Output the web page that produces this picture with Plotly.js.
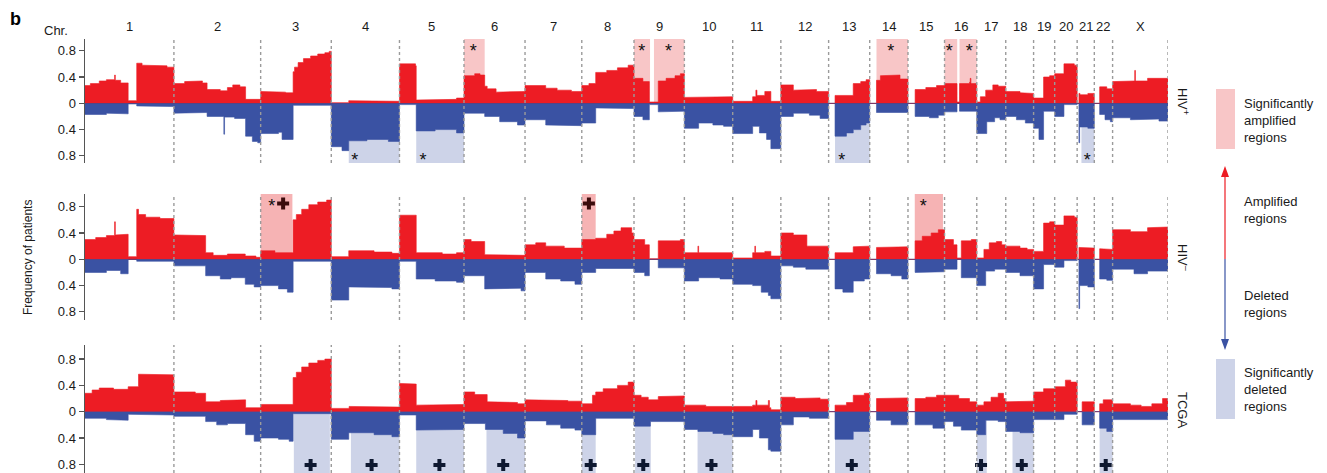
<!DOCTYPE html>
<html><head><meta charset="utf-8">
<script src="https://cdn.plot.ly/plotly-3.0.1.min.js"></script>
<style>html,body{margin:0;padding:0;background:#fff;}#chart{width:1327px;height:473px;}</style>
</head><body><div id="chart"></div>
<script>
// ---------- DATA ----------
const chrNames = ['1','2','3','4','5','6','7','8','9','10','11','12','13','14','15','16','17','18','19','20','21','22','X'];
const chrLengths = [249.25,243.2,198.0,191.15,180.9,171.1,159.1,146.4,141.2,135.5,135.0,133.9,115.2,107.3,102.5,90.35,81.2,78.1,59.1,63.0,48.1,51.3,155.3];

// per chromosome: [start Mb, frequency] steps
const hivPosAmp = [
 [[0,.27],[15,.30],[40,.34],[60,.36],[83,.43],[85,.35],[100,.31],[121,.04],[145,.61],[160,.58],[200,.57],[230,.55]],
 [[0,.30],[30,.33],[60,.34],[80,.31],[93,.21],[130,.19],[150,.24],[165,.28],[185,.25],[201,.06]],
 [[0,.18],[40,.17],[70,.16],[91,.48],[95,.55],[105,.62],[120,.68],[140,.72],[160,.75],[180,.77],[192,.79]],
 [[0,.01],[49,.04],[100,.04],[150,.03]],
 [[0,.60],[45,.57],[47,.05],[120,.06],[160,.08]],
 [[0,.42],[30,.45],[45,.43],[58,.26],[65,.22],[90,.17],[130,.18]],
 [[0,.27],[58,.23],[90,.20],[130,.18]],
 [[0,.27],[20,.30],[39,.47],[70,.50],[100,.54],[130,.58]],
 [[0,.38],[25,.33],[43,.02],[68,.34],[90,.38],[115,.42],[130,.45]],
 [[0,.09],[40,.10],[80,.09],[110,.10]],
 [[0,.03],[56,.10],[65,.20],[68,.12],[90,.18],[107,.03]],
 [[0,.28],[35,.20],[70,.21],[100,.18]],
 [[0,0],[18,.12],[50,.12],[69,.30],[90,.33],[105,.36]],
 [[0,0],[19,.35],[30,.42],[60,.43],[85,.37]],
 [[0,0],[20,.21],[50,.24],[80,.27]],
 [[0,.30],[35,.02],[42,.30],[70,.32],[72,.38],[74,.30]],
 [[0,.02],[10,.10],[25,.20],[45,.28],[60,.26]],
 [[0,.18],[40,.16],[60,.15]],
 [[0,.08],[28,.40],[45,.42]],
 [[0,.45],[26,.60],[55,.58]],
 [[0,0],[5,.15],[8,.13],[30,.15]],
 [[0,0],[15,.25],[35,.22]],
 [[0,.33],[60,.34],[62,.50],[64,.34],[98,.38],[130,.38]]
];
const hivPosDel = [
 [[0,.17],[60,.15],[100,.16],[121,.01],[145,.04],[200,.05]],
 [[0,.15],[50,.14],[93,.20],[140,.47],[142,.21],[170,.23],[201,.50],[220,.58],[235,.60]],
 [[0,.46],[50,.44],[60,.55],[91,.03]],
 [[0,.66],[30,.72],[49,.57],[100,.55],[160,.58]],
 [[0,.02],[47,.42],[100,.40],[160,.45]],
 [[0,.15],[58,.20],[100,.28],[150,.33]],
 [[0,.25],[58,.33],[130,.34]],
 [[0,.30],[39,.07],[100,.08]],
 [[0,.20],[25,.25],[43,.02],[68,.13],[110,.12]],
 [[0,.38],[40,.30],[80,.33],[110,.35]],
 [[0,.46],[56,.35],[75,.45],[95,.55],[107,.69]],
 [[0,.20],[35,.15],[80,.18],[110,.23]],
 [[0,0],[18,.50],[50,.45],[69,.40],[90,.33],[105,.30]],
 [[0,0],[19,.14],[60,.15],[90,.14]],
 [[0,0],[20,.20],[60,.22],[85,.18]],
 [[0,.13],[35,0],[42,.12]],
 [[0,.46],[28,.28],[50,.22],[65,.25]],
 [[0,.20],[30,.25],[55,.30]],
 [[0,.38],[15,.55],[28,.12]],
 [[0,.20],[26,.02]],
 [[0,0],[5,.60],[7,.36],[30,.38]],
 [[0,0],[15,.17],[30,.25],[45,.28]],
 [[0,.22],[50,.25],[98,.24],[130,.27]]
];
const hivNegAmp = [
 [[0,.30],[30,.33],[60,.36],[83,.57],[85,.37],[110,.38],[121,.04],[145,.76],[150,.68],[170,.64],[210,.62]],
 [[0,.37],[50,.36],[89,.10],[110,.06],[150,.08],[200,.05],[230,.03]],
 [[0,.13],[40,.10],[91,.60],[100,.68],[115,.76],[135,.83],[160,.87],[185,.90]],
 [[0,.04],[49,.13],[120,.11],[170,.09]],
 [[0,.67],[47,.10],[120,.08],[160,.10]],
 [[0,.30],[20,.27],[58,.07],[120,.06]],
 [[0,.22],[30,.25],[58,.20],[110,.17]],
 [[0,.30],[39,.32],[70,.38],[90,.43],[110,.48],[140,.40]],
 [[0,.30],[30,.22],[43,.01],[68,.28],[100,.28],[130,.30]],
 [[0,.10],[38,.20],[40,.10],[80,.09],[110,.10]],
 [[0,.02],[56,.10],[62,.20],[64,.10],[90,.12],[107,.05]],
 [[0,.40],[35,.37],[73,.20],[100,.20]],
 [[0,0],[18,.10],[69,.19],[100,.20]],
 [[0,0],[19,.18],[60,.19]],
 [[0,0],[20,.28],[40,.35],[65,.40],[85,.45]],
 [[0,.30],[25,.22],[35,.02],[47,.28],[75,.30]],
 [[0,.02],[20,.15],[35,.25],[55,.27],[70,.22]],
 [[0,.20],[40,.17],[60,.15]],
 [[0,.12],[28,.55],[45,.57]],
 [[0,.52],[26,.66],[55,.64]],
 [[0,0],[5,.18],[30,.17]],
 [[0,0],[15,.16],[35,.15]],
 [[0,.45],[50,.42],[98,.48],[130,.49]]
];
const hivNegDel = [
 [[0,.20],[60,.17],[100,.22],[121,0],[145,.03]],
 [[0,.10],[89,.25],[130,.30],[160,.28],[200,.38],[225,.42]],
 [[0,.40],[50,.45],[75,.50],[91,.03]],
 [[0,.62],[49,.42],[120,.43],[170,.45]],
 [[0,.03],[47,.30],[100,.33],[160,.35]],
 [[0,.25],[58,.45],[120,.44],[160,.48]],
 [[0,.20],[58,.30],[100,.33],[140,.38]],
 [[0,.20],[39,.14]],
 [[0,.20],[30,.25],[43,0],[68,.13]],
 [[0,.33],[40,.28],[100,.30]],
 [[0,.38],[56,.40],[80,.50],[100,.55],[107,.60]],
 [[0,.10],[35,.12],[70,.15]],
 [[0,0],[18,.45],[40,.50],[69,.33],[100,.30]],
 [[0,0],[19,.22],[60,.25],[90,.30]],
 [[0,0],[20,.20],[60,.19]],
 [[0,.15],[35,0],[47,.28]],
 [[0,.40],[25,.18],[50,.15]],
 [[0,.20],[40,.25]],
 [[0,.45],[28,.08]],
 [[0,.12],[26,.02]],
 [[0,0],[5,.75],[7,.40],[30,.42]],
 [[0,0],[15,.30],[35,.32]],
 [[0,.15],[60,.22],[98,.18]]
];
const tcgaAmp = [
 [[0,.28],[20,.33],[40,.36],[80,.34],[121,.38],[150,.57],[200,.56]],
 [[0,.30],[60,.28],[89,.15],[130,.17],[170,.18],[201,.06]],
 [[0,.11],[91,.52],[100,.60],[115,.68],[135,.74],[160,.78],[180,.80]],
 [[0,.05],[50,.08],[120,.07],[170,.07]],
 [[0,.43],[20,.42],[47,.10],[120,.11],[160,.11]],
 [[0,.30],[30,.26],[65,.15],[120,.14],[150,.12]],
 [[0,.18],[60,.17],[120,.16]],
 [[0,.12],[30,.25],[39,.30],[60,.35],[100,.40],[130,.45]],
 [[0,.25],[20,.22],[40,.18],[68,.23],[120,.24]],
 [[0,.10],[60,.08],[100,.07]],
 [[0,.08],[56,.10],[65,.17],[68,.10],[100,.17],[103,.06],[107,.03]],
 [[0,.22],[40,.20],[80,.21],[110,.19]],
 [[0,0],[18,.10],[50,.14],[69,.25],[100,.28]],
 [[0,0],[19,.20],[70,.21]],
 [[0,0],[20,.20],[50,.22],[80,.25]],
 [[0,.25],[40,.20],[70,.15]],
 [[0,.10],[20,.15],[40,.22],[60,.28],[75,.20]],
 [[0,.15],[40,.16]],
 [[0,.30],[28,.35]],
 [[0,.38],[30,.48],[45,.45]],
 [[0,0],[14,.15]],
 [[0,0],[15,.12],[25,.18]],
 [[0,.12],[50,.10],[80,.08],[110,.12],[140,.20]]
];
const tcgaDel = [
 [[0,.10],[60,.12],[100,.13],[121,.04],[180,.05]],
 [[0,.07],[89,.15],[120,.20],[150,.18],[201,.35],[225,.45]],
 [[0,.40],[50,.42],[80,.45],[91,.03]],
 [[0,.42],[49,.32],[120,.35],[170,.38]],
 [[0,.05],[47,.28],[120,.27]],
 [[0,.18],[60,.27],[110,.33],[150,.40]],
 [[0,.14],[60,.20],[100,.25],[140,.28]],
 [[0,.35],[39,.10]],
 [[0,.22],[46,.15]],
 [[0,.27],[38,.30],[80,.33],[110,.35]],
 [[0,.38],[56,.27],[75,.40],[100,.58],[107,.60]],
 [[0,.20],[35,.08],[80,.10]],
 [[0,0],[18,.42],[69,.30]],
 [[0,0],[19,.13],[60,.20],[90,.20]],
 [[0,0],[20,.20],[70,.25]],
 [[0,.15],[25,.22],[47,.28]],
 [[0,.35],[25,.13],[60,.15]],
 [[0,.30],[40,.32]],
 [[0,.12]],
 [[0,.12],[26,.04]],
 [[0,0],[14,.20]],
 [[0,0],[15,.25],[35,.30]],
 [[0,.12]]
];

// significant regions: [chromosome, start Mb, end Mb]
const hivPosSigAmp = [['6',0,58],['9',0,45],['9',56,141.2],['14',19,107.3],['16',0,35.5],['16',42,90.35]];
const hivPosSigDel = [['4',49,191.15],['5',47,180.9],['13',18,115.2],['21',12,48.1]];
const hivNegSigAmp = [['3',0,89],['8',0,39],['15',19,98]];
const tcgaSigDel = [['3',93,194],['4',55,191.15],['5',47,180.9],['6',63,171.1],['8',0,39],['9',3,47],['10',37,135.5],['13',18,115.2],['17',0,28],['18',19,78.1],['22',15,51.3]];

// marks: [chromosome, Mb]
const hivPosAmpStars = [['6',26],['9',22],['9',97],['14',59],['16',13],['16',69]];
const hivPosDelStars = [['4',66],['5',66],['13',37],['21',28]];
const hivNegAmpStars = [['3',31],['15',43]];
const hivNegAmpCrosses = [['3',63],['8',20]];
const tcgaDelCrosses = [['3',140],['4',113],['5',112],['6',110],['8',25],['9',26],['10',76],['13',65],['17',12],['18',45],['22',32]];

const panelLabels = ['HIV<sup>+</sup>','HIV<sup>–</sup>','TCGA'];

// ---------- BUILD ----------
const offsets = [0];
chrLengths.forEach((l,i)=>offsets.push(offsets[i]+l));
const total = offsets[offsets.length-1];
const gpos = (c, mb) => offsets[chrNames.indexOf(c)] + mb;

const RED = '#ED1C24', BLUE = '#3A52A3', PINK = '#F8C6C7', PINK2='#F6B3B4', LBLUE = '#CDD3E8';
const FONT = 'Liberation Sans, Arial, Helvetica, sans-serif';

function steps(segs, sign){
  const x=[], y=[];
  segs.forEach((arr,i)=>{
    arr.forEach((p,k)=>{
      const s = offsets[i]+p[0];
      const e = offsets[i]+(k+1<arr.length ? arr[k+1][0] : chrLengths[i]);
      x.push(s, e); y.push(sign*p[1], sign*p[1]);
    });
  });
  return {x,y};
}
function area(segs, sign, color, yax){
  const d = steps(segs, sign);
  return {type:'scatter', mode:'lines', x:d.x, y:d.y, xaxis:'x', yaxis:yax,
    fill:'tozeroy', fillcolor:color, line:{color:color, width:0.6}, hoverinfo:'skip', showlegend:false};
}
function textMarks(list, yv, yax){
  return {type:'scatter', mode:'text', x:list.map(m=>gpos(m[0],m[1])), y:list.map(()=>yv),
    text:list.map(()=>'*'), textfont:{family:FONT, size:18, color:'#111'}, xaxis:'x', yaxis:yax,
    cliponaxis:false, hoverinfo:'skip', showlegend:false};
}
function crossMarks(list, yv, yax, color){
  return {type:'scatter', mode:'markers', x:list.map(m=>gpos(m[0],m[1])), y:list.map(()=>yv),
    marker:{symbol:'cross', size:10, color:color, line:{width:0}}, xaxis:'x', yaxis:yax,
    cliponaxis:false, hoverinfo:'skip', showlegend:false};
}

const ranges = [[-0.908,0.978],[-0.923,0.993],[-0.932,1.014]];
const domains = [[0.6554,0.9175],[0.3235,0.5899],[0,0.2706]];
const yaxes = ['y','y2','y3'];

const data = [
  area(hivPosAmp, 1, RED, 'y'), area(hivPosDel, -1, BLUE, 'y'),
  area(hivNegAmp, 1, RED, 'y2'), area(hivNegDel, -1, BLUE, 'y2'),
  area(tcgaAmp, 1, RED, 'y3'), area(tcgaDel, -1, BLUE, 'y3'),
  textMarks(hivPosAmpStars, 0.78, 'y'), textMarks(hivPosDelStars, -0.88, 'y'),
  textMarks(hivNegAmpStars, 0.79, 'y2'), crossMarks(hivNegAmpCrosses, 0.85, 'y2', '#3b0c0c'),
  crossMarks(tcgaDelCrosses, -0.81, 'y3', '#0e1830')
];

const shapes = [];
function sig(list, panel, up, color){
  list.forEach(r=>{
    shapes.push({type:'rect', xref:'x', yref:yaxes[panel], layer:'below',
      x0:gpos(r[0],r[1]), x1:gpos(r[0],r[2]), y0:0, y1: up ? ranges[panel][1] : ranges[panel][0],
      fillcolor:color, line:{width:0}});
  });
}
sig(hivPosSigAmp, 0, true, PINK);
sig(hivPosSigDel, 0, false, LBLUE);
sig(hivNegSigAmp, 1, true, PINK2);
sig(tcgaSigDel, 2, false, LBLUE);
[0,1,2].forEach(p=>{
  for(let i=1;i<offsets.length;i++){
    shapes.push({type:'line', xref:'x', yref:yaxes[p]+' domain', x0:offsets[i], x1:offsets[i], y0:0, y1:1,
      line:{color:'#9b9b9b', width:1.4, dash:'dot'}, layer:'above'});
  }
});
// legend key (paper coords)
const px = v => (v-85)/1083, py = v => 1 - v/473;
shapes.push({type:'rect', xref:'paper', yref:'paper', x0:px(1216), x1:px(1235), y0:py(149), y1:py(89), fillcolor:PINK, line:{width:0}});
shapes.push({type:'rect', xref:'paper', yref:'paper', x0:px(1216), x1:px(1235), y0:py(419), y1:py(359), fillcolor:LBLUE, line:{width:0}});
shapes.push({type:'line', xref:'paper', yref:'paper', x0:px(1225), x1:px(1225), y0:py(259), y1:py(174), line:{color:RED, width:1.2}});
shapes.push({type:'line', xref:'paper', yref:'paper', x0:px(1225), x1:px(1225), y0:py(259), y1:py(342), line:{color:BLUE, width:1.2}});
shapes.push({type:'path', xref:'paper', yref:'paper', path:`M ${px(1225)} ${py(166)} L ${px(1221)} ${py(177)} L ${px(1229)} ${py(177)} Z`, fillcolor:RED, line:{width:0}});
shapes.push({type:'path', xref:'paper', yref:'paper', path:`M ${px(1225)} ${py(350)} L ${px(1221)} ${py(339)} L ${px(1229)} ${py(339)} Z`, fillcolor:BLUE, line:{width:0}});

const annotations = [];
const ann = (o)=>annotations.push(Object.assign({showarrow:false, xanchor:'center', yanchor:'middle'}, o));
chrNames.forEach((c,i)=>{
  ann({xref:'x', yref:'paper', x:(offsets[i]+offsets[i+1])/2, y:py(27), text:c, font:{family:FONT, size:13, color:'#1a1a1a'}});
});
ann({xref:'paper', yref:'paper', x:px(56), y:py(30), text:'Chr.', font:{family:FONT, size:13, color:'#1a1a1a'}});
ann({xref:'paper', yref:'paper', x:px(15), y:py(19), text:'<b>b</b>', font:{family:FONT, size:18, color:'#000'}});
ann({xref:'paper', yref:'paper', x:px(28), y:py(258), text:'Frequency of patients', textangle:-90, font:{family:FONT, size:12, color:'#1a1a1a'}});
[101,258,410].forEach((yy,i)=>{
  ann({xref:'paper', yref:'paper', x:px(1183), y:py(yy), text:panelLabels[i], textangle:90, font:{family:FONT, size:13, color:'#1a1a1a'}});
});
const legTexts = [['Significantly<br>amplified<br>regions',120],['Amplified<br>regions',210],['Deleted<br>regions',304],['Significantly<br>deleted<br>regions',389]];
legTexts.forEach(t=>{
  ann({xref:'paper', yref:'paper', x:px(1242), y:py(t[1]), text:t[0], xanchor:'left', align:'left', font:{family:FONT, size:13, color:'#1a1a1a'}});
});

const zcol = ['#8c2030','#8c2a48','#6d4a80'];
const layout = {
  width:1327, height:473, margin:{l:85, r:159, t:0, b:0}, paper_bgcolor:'#fff', plot_bgcolor:'rgba(0,0,0,0)',
  showlegend:false, font:{family:FONT, size:13, color:'#1a1a1a'},
  xaxis:{range:[0,total], showline:false, showticklabels:false, ticks:'', showgrid:false, zeroline:false, anchor:'y3', fixedrange:true},
  shapes, annotations
};
[0,1,2].forEach(p=>{
  const key = p===0 ? 'yaxis' : 'yaxis'+(p+1);
  layout[key] = {domain:domains[p], range:ranges[p], anchor:'x',
    tickvals:[-0.8,-0.4,0,0.4,0.8], ticktext:['0.8','0.4','0','0.4','0.8'],
    ticks:'outside', ticklen:5, tickwidth:1.2, tickcolor:'#555', showline:true, linecolor:'#555', linewidth:1.5,
    showgrid:false, zeroline:true, zerolinecolor:zcol[p], zerolinewidth:1.2, tickfont:{family:FONT, size:13, color:'#1a1a1a'}, fixedrange:true};
});
Plotly.newPlot('chart', data, layout, {displayModeBar:false, staticPlot:true});
</script></body></html>
